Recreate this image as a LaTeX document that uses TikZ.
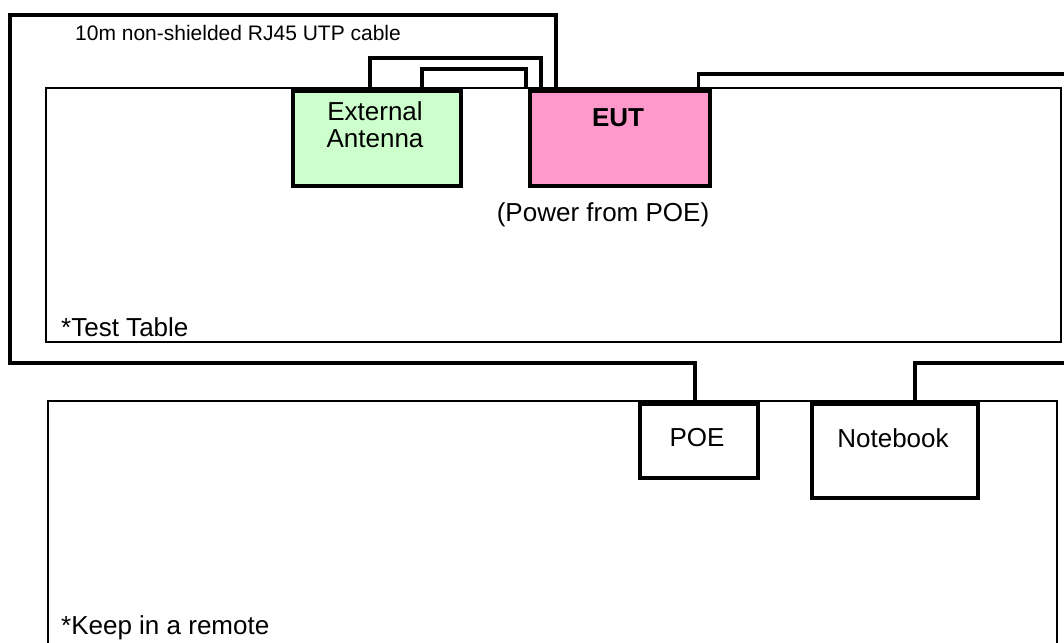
\documentclass[tikz,border=0pt]{standalone}
\usepackage{fontspec}
\setmainfont{Liberation Sans}
\begin{document}
\begin{tikzpicture}[x=1pt,y=-1pt,
  cable/.style={line width=3.5pt,line join=miter},
  table/.style={line width=2.5pt},
  device/.style={draw,line width=3.5pt,inner sep=0pt,anchor=north west},
  txt/.style={font=\fontsize{26}{27}\selectfont,inner sep=0pt},
  small/.style={font=\fontsize{21}{23}\selectfont,inner sep=0pt}]
\useasboundingbox (0,0) rectangle (1064,642);

% test table and remote area
\draw[table] (46,88) rectangle (1061,342);
\draw[table] (48,660) |- (1057,401) -- (1057,660);

% devices
\node[device,fill={rgb,255:red,204;green,255;blue,204},minimum width=168,minimum height=95] (ant) at (291,89) {};
\node[device,fill={rgb,255:red,255;green,153;blue,204},minimum width=180,minimum height=95] (eut) at (528,89) {};
\node[device,fill=white,minimum width=118,minimum height=74] (poe) at (638,402) {};
\node[device,fill=white,minimum width=166,minimum height=94] (nb) at (810,402) {};

% cable ends leaving the picture on the right
\coordinate (r1) at (1075,74);
\coordinate (r2) at (1075,363);

% cables
\draw[cable] ([xshift=28pt]eut.north west) |- (10,15) |- ([xshift=-4pt,yshift=39pt]poe.north) -- ([xshift=-4pt]poe.north);
\draw[cable] ([xshift=79pt]ant.north west) |- (541,58) -- ([xshift=13pt]eut.north west);
\draw[cable] ([xshift=131pt]ant.north west) |- (526,69) -- ([xshift=-2pt]eut.north west);
\draw[cable] ([xshift=-13pt]eut.north east) |- (r1);
\draw[cable] (r2) -| ([xshift=20pt]nb.north);

% redraw device outlines over the cable ends
\node[device,minimum width=168,minimum height=95] at (291,89) {};
\node[device,minimum width=180,minimum height=95] at (528,89) {};
\node[device,minimum width=118,minimum height=74] at (638,402) {};
\node[device,minimum width=166,minimum height=94] at (810,402) {};

% labels
\node[txt,align=center] (antlbl) at (375,125) {External\\Antenna};
\node[txt,font=\fontsize{26}{27}\selectfont\bfseries] (eutlbl) at (618,118) {EUT};
\node[txt] (pwr) at (603,215) {(Power from POE)};
\node[txt] (poelbl) at (697,438) {POE};
\node[txt] (nblbl) at (893,438) {Notebook};
\node[small,anchor=base west] (cablelbl) at (75,41) {10m non-shielded RJ45 UTP cable};
\node[txt,anchor=base west] (tbl) at (61,336) {*Test Table};
\node[txt,anchor=base west] (remote) at (61,634) {*Keep in a remote};
\end{tikzpicture}
\end{document}
